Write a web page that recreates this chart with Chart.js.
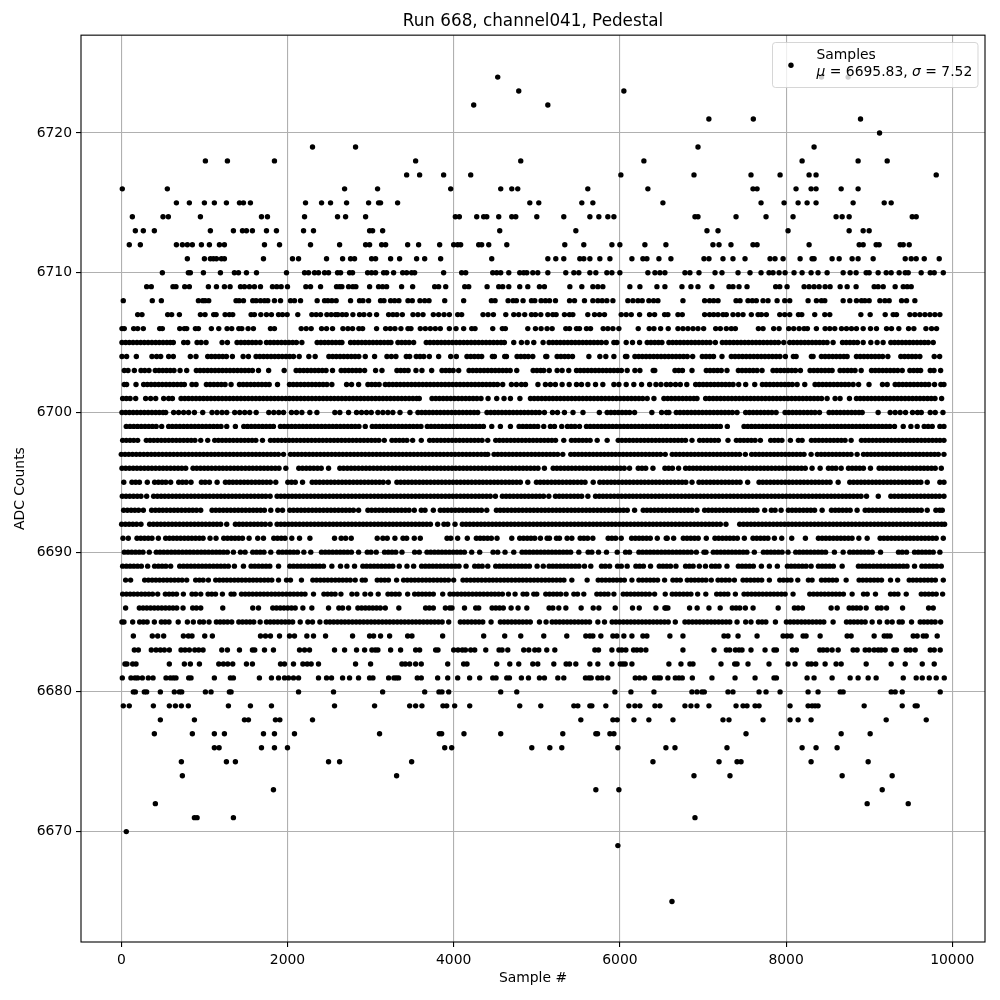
<!DOCTYPE html>
<html>
<head>
<meta charset="utf-8">
<title>Run 668, channel041, Pedestal</title>
<script src="https://cdn.jsdelivr.net/npm/chart.js@4"></script>
<style>
  html, body { margin: 0; padding: 0; background: #fff; }
  canvas { display: block; }
</style>
</head>
<body>
<canvas id="pedestalChart" width="1000" height="1000"></canvas>
<script>
// sample numbers, one list per ADC count
const s6724 = [4530, 8426, 8747];
const s6723 = [4783, 6048];
const s6722 = [4241, 5133];
const s6721 = [7071, 7606, 8896];
const s6720 = [9125];
const s6719 = [2301, 2819, 6940, 8337];
const s6718 = [1012, 1277, 1843, 3542, 4807, 6289, 8193, 8867, 9217];
const s6717 = [3434, 3590, 3879, 4205, 6012, 6892, 7578, 7928, 8277, 8361, 9807];
const s6716 = [12, 554, 2687, 3084, 3964, 4566, 4699, 4771, 5614, 6337, 7602, 7651, 8120, 8301, 8361, 8663, 8867];
const s6715 = [663, 819, 1000, 1120, 1265, 1422, 1470, 1554, 2217, 2410, 2518, 2711, 2976, 3096, 3120, 3325, 4916, 5024, 5542, 5675, 6518, 7699, 7976, 8145, 8253, 8361, 8807, 9181, 9265];
const s6714 = [133, 502, 566, 952, 1687, 1759, 2205, 2602, 2699, 2940, 4020, 4068, 4277, 4361, 4398, 4542, 4699, 4747, 5000, 5325, 5639, 5747, 5855, 5928, 6904, 6940, 7398, 7759, 8084, 8602, 8675, 8759, 9518, 9566];
const s6713 = [169, 265, 398, 1072, 1349, 1458, 1506, 1578, 1747, 1867, 2193, 2313, 2988, 3024, 3145, 4554, 5470, 7048, 7181, 8024, 8759, 8928, 9000];
const s6712 = [96, 229, 663, 735, 795, 855, 964, 1060, 1181, 1241, 1723, 1904, 2277, 2627, 2940, 2988, 3133, 3181, 3446, 3578, 3831, 4000, 4048, 4084, 4301, 4337, 4422, 4639, 5337, 5566, 5904, 6000, 6301, 6554, 7120, 7193, 7337, 7602, 7651, 8277, 8880, 8928, 9084, 9120, 9373, 9410, 9482];
const s6711 = [795, 1000, 1072, 1108, 1145, 1205, 1241, 1711, 2060, 2133, 2470, 2663, 2759, 2807, 3012, 3060, 3241, 3349, 3554, 3651, 3843, 4458, 5133, 5229, 5325, 5518, 5566, 5639, 5759, 5880, 6145, 6277, 6325, 6470, 6614, 7012, 7072, 7241, 7361, 7506, 7807, 7867, 7964, 8169, 8313, 8337, 8554, 8639, 8795, 8867, 9048, 9434, 9506, 9566, 9663, 9843];
const s6710 = [494, 807, 831, 988, 1193, 1361, 1410, 1506, 1627, 1988, 2205, 2253, 2325, 2373, 2446, 2494, 2602, 2639, 2747, 2783, 2964, 3012, 3060, 3157, 3193, 3277, 3386, 3434, 3494, 3530, 3879, 4096, 4145, 4470, 4518, 4566, 4663, 4795, 4843, 4880, 4952, 5012, 5133, 5349, 5446, 5506, 5639, 5711, 5843, 5904, 6000, 6337, 6422, 6482, 6542, 6783, 6843, 6952, 7145, 7229, 7422, 7566, 7699, 7795, 7843, 7916, 7988, 8096, 8193, 8301, 8385, 8494, 8687, 8771, 8843, 8964, 9000, 9108, 9205, 9265, 9361, 9434, 9470, 9626, 9735, 9783, 9892];
const s6709 = [305, 361, 622, 658, 763, 819, 1048, 1145, 1241, 1309, 1434, 1482, 1542, 1602, 1675, 1819, 1871, 1924, 2000, 2221, 2277, 2398, 2590, 2627, 2655, 2735, 2787, 2823, 2988, 3096, 3145, 3193, 3373, 3506, 3771, 3819, 3904, 4133, 4181, 4402, 4542, 4590, 4663, 4795, 4892, 5032, 5092, 5398, 5542, 5675, 5735, 5795, 6120, 6241, 6446, 6542, 6747, 6855, 6940, 7108, 7313, 7361, 7434, 7530, 7875, 7924, 8012, 8217, 8277, 8337, 8398, 8470, 8530, 8651, 8735, 8843, 9060, 9108, 9169, 9313, 9410, 9458, 9506];
const s6708 = [24, 373, 482, 928, 980, 1008, 1052, 1381, 1418, 1470, 1582, 1622, 1675, 1723, 1763, 1843, 1916, 2036, 2084, 2157, 2357, 2446, 2486, 2534, 2586, 2759, 2867, 2908, 2976, 3120, 3161, 3241, 3289, 3341, 3450, 3502, 3594, 3651, 3703, 3892, 4120, 4454, 4498, 4655, 4715, 4755, 4835, 4936, 4976, 5052, 5104, 5153, 5225, 5394, 5454, 5574, 5675, 5735, 5787, 5843, 5916, 6096, 6157, 6217, 6269, 6349, 6406, 6458, 6759, 7020, 7080, 7129, 7181, 7398, 7446, 7542, 7594, 7642, 7723, 7783, 7892, 7984, 8044, 8265, 8365, 8426, 8466, 8687, 8767, 8847, 8908, 8948, 9000, 9129, 9189, 9241, 9390, 9450, 9550];
const s6707 = [197, 249, 558, 606, 699, 952, 1008, 1112, 1141, 1249, 1301, 1341, 1562, 1602, 1679, 1747, 1807, 1892, 1940, 1996, 2124, 2293, 2345, 2398, 2474, 2526, 2578, 2606, 2659, 2707, 2787, 2867, 2920, 2988, 3072, 3217, 3269, 3317, 3382, 3510, 3570, 3631, 3755, 3819, 3884, 3948, 4048, 4096, 4353, 4414, 4478, 4627, 4723, 4783, 4855, 4936, 4984, 5048, 5133, 5193, 5233, 5333, 5394, 5434, 5614, 5695, 5755, 5815, 6016, 6076, 6137, 6237, 6357, 6418, 6538, 6578, 6699, 6751, 7020, 7080, 7129, 7181, 7241, 7281, 7361, 7422, 7482, 7582, 7663, 7703, 7763, 7924, 7984, 8044, 8149, 8189, 8345, 8466, 8526, 8900, 9012, 9193, 9289, 9329, 9490, 9550, 9610, 9671, 9731, 9791, 9851];
const s6706 = [8, 36, 149, 197, 265, 462, 494, 703, 759, 787, 892, 928, 1084, 1173, 1273, 1329, 1414, 1450, 1526, 1590, 1795, 1843, 2165, 2225, 2285, 2410, 2470, 2542, 2667, 2727, 2783, 2859, 2904, 3072, 3181, 3237, 3293, 3365, 3450, 3486, 3598, 3659, 3719, 3779, 3839, 3948, 4028, 4120, 4217, 4257, 4470, 4586, 4622, 4892, 4984, 5052, 5124, 5185, 5349, 5394, 5478, 5514, 5598, 5647, 5799, 5855, 5916, 5988, 6221, 6353, 6410, 6490, 6582, 6699, 6759, 6819, 6880, 6940, 7008, 7153, 7209, 7281, 7341, 7390, 7667, 7723, 7851, 7916, 8032, 8092, 8157, 8217, 8257, 8365, 8470, 8526, 8586, 8667, 8727, 8787, 8847, 8928, 9016, 9088, 9209, 9269, 9357, 9474, 9538, 9683, 9751, 9811];
const s6705 = [8, 52, 97, 142, 188, 233, 278, 323, 368, 413, 458, 503, 548, 590, 626, 751, 799, 912, 960, 1020, 1213, 1277, 1393, 1440, 1485, 1530, 1575, 1620, 1671, 1747, 1792, 1837, 1882, 1927, 1972, 2017, 2062, 2107, 2173, 2357, 2402, 2447, 2492, 2537, 2582, 2627, 2655, 2759, 2804, 2849, 2894, 2939, 2984, 3029, 3074, 3119, 3164, 3209, 3245, 3329, 3374, 3419, 3464, 3518, 3670, 3715, 3760, 3805, 3850, 3895, 3940, 3985, 4030, 4075, 4120, 4165, 4210, 4255, 4300, 4345, 4390, 4435, 4480, 4525, 4570, 4610, 4723, 4815, 4884, 4964, 5076, 5148, 5193, 5238, 5283, 5328, 5373, 5418, 5463, 5508, 5553, 5598, 5643, 5688, 5733, 5778, 5835, 5928, 5964, 6076, 6152, 6237, 6329, 6374, 6419, 6464, 6506, 6590, 6635, 6680, 6725, 6770, 6815, 6860, 6905, 6950, 6995, 7040, 7085, 7149, 7233, 7278, 7323, 7368, 7413, 7458, 7503, 7548, 7593, 7638, 7683, 7728, 7773, 7818, 7863, 7908, 7972, 8044, 8089, 8134, 8179, 8224, 8269, 8314, 8359, 8404, 8449, 8494, 8566, 8679, 8724, 8769, 8814, 8859, 8928, 9020, 9096, 9168, 9261, 9306, 9351, 9396, 9441, 9486, 9531, 9576, 9621, 9666, 9711, 9771];
const s6704 = [8, 64, 181, 369, 425, 474, 570, 626, 831, 899, 1040, 1085, 1130, 1175, 1220, 1265, 1337, 1466, 1530, 1622, 1667, 1712, 1757, 1802, 1847, 1892, 1937, 1982, 2027, 2072, 2141, 2257, 2333, 2498, 2543, 2588, 2633, 2678, 2723, 2768, 2813, 2858, 2936, 3048, 3197, 3250, 3305, 3430, 3470, 3550, 3595, 3640, 3707, 3819, 3964, 4032, 4160, 4205, 4250, 4295, 4337, 4466, 4490, 4614, 4635, 4763, 4808, 4853, 4898, 4952, 5108, 5121, 5245, 5290, 5335, 5380, 5430, 5627, 5759, 5831, 5928, 6068, 6084, 6181, 6226, 6271, 6316, 6361, 6406, 6451, 6496, 6541, 6586, 6631, 6676, 6721, 6766, 6811, 6876, 6992, 7037, 7082, 7127, 7229, 7341, 7386, 7431, 7476, 7521, 7566, 7611, 7656, 7701, 7746, 7791, 7836, 7881, 7926, 7992, 8088, 8121, 8305, 8325, 8425, 8470, 8515, 8560, 8605, 8650, 8695, 8735, 8847, 8892, 8937, 8982, 9027, 9072, 9117, 9162, 9225, 9381, 9426, 9471, 9516, 9561, 9610, 9783, 9848];
const s6703 = [36, 81, 157, 237, 282, 333, 409, 454, 499, 544, 589, 634, 707, 787, 903, 948, 993, 1038, 1083, 1128, 1173, 1218, 1263, 1308, 1353, 1398, 1443, 1488, 1533, 1578, 1651, 1773, 1960, 2104, 2149, 2194, 2239, 2284, 2329, 2374, 2419, 2464, 2542, 2646, 2691, 2736, 2781, 2826, 2871, 2928, 3060, 3137, 3317, 3362, 3407, 3452, 3546, 3618, 3735, 3859, 3904, 3949, 3994, 4060, 4185, 4230, 4275, 4320, 4365, 4410, 4455, 4500, 4545, 4590, 4635, 4680, 4759, 4956, 5001, 5046, 5084, 5150, 5245, 5305, 5385, 5478, 5523, 5568, 5613, 5658, 5703, 5748, 5793, 5838, 5883, 5928, 5973, 6018, 6088, 6181, 6241, 6401, 6420, 6663, 6708, 6753, 6868, 7040, 7085, 7130, 7175, 7220, 7289, 7426, 7471, 7516, 7561, 7606, 7651, 7711, 7843, 7888, 7933, 7978, 8023, 8068, 8113, 8173, 8289, 8334, 8379, 8424, 8469, 8514, 8554, 8650, 8695, 8740, 8785, 8830, 8904, 9028, 9073, 9118, 9163, 9208, 9253, 9298, 9343, 9398, 9490, 9535, 9580, 9619, 9735, 9780, 9860];
const s6702 = [36, 64, 177, 269, 314, 359, 404, 449, 494, 539, 584, 629, 674, 719, 759, 851, 900, 1024, 1069, 1114, 1159, 1204, 1249, 1321, 1422, 1467, 1512, 1557, 1602, 1647, 1692, 1737, 1780, 1880, 2024, 2069, 2114, 2159, 2204, 2249, 2294, 2339, 2384, 2429, 2474, 2534, 2711, 2771, 2856, 2968, 3013, 3058, 3103, 3177, 3222, 3267, 3312, 3357, 3402, 3447, 3492, 3537, 3582, 3627, 3672, 3717, 3762, 3807, 3852, 3897, 3942, 3987, 4032, 4077, 4122, 4167, 4212, 4257, 4302, 4347, 4392, 4437, 4482, 4527, 4590, 4695, 4755, 4815, 4864, 5014, 5104, 5164, 5224, 5305, 5390, 5478, 5538, 5615, 5707, 5795, 5928, 5988, 6076, 6168, 6261, 6358, 6434, 6494, 6560, 6610, 6670, 6727, 6805, 6912, 6957, 7002, 7047, 7092, 7137, 7182, 7227, 7272, 7317, 7362, 7430, 7514, 7623, 7715, 7760, 7805, 7850, 7895, 7940, 7985, 8030, 8075, 8133, 8225, 8349, 8394, 8439, 8484, 8529, 8574, 8619, 8664, 8709, 8754, 8807, 8873, 8998, 9160, 9217, 9313, 9358, 9403, 9448, 9493, 9538, 9583, 9628, 9673, 9718, 9787, 9863, 9900];
const s6701 = [16, 61, 106, 173, 293, 353, 414, 510, 570, 615, 719, 764, 809, 854, 899, 944, 989, 1034, 1079, 1124, 1169, 1214, 1259, 1304, 1349, 1394, 1439, 1484, 1529, 1574, 1619, 1664, 1709, 1754, 1799, 1844, 1889, 1934, 1979, 2024, 2069, 2114, 2159, 2204, 2249, 2294, 2339, 2384, 2429, 2474, 2519, 2564, 2609, 2654, 2699, 2744, 2789, 2834, 2879, 2924, 2969, 3014, 3059, 3104, 3149, 3194, 3239, 3284, 3329, 3374, 3419, 3464, 3509, 3554, 3586, 3739, 3784, 3829, 3874, 3919, 3964, 4009, 4054, 4099, 4144, 4189, 4234, 4279, 4329, 4414, 4518, 4606, 4683, 4797, 4924, 4969, 5014, 5059, 5104, 5149, 5194, 5239, 5284, 5329, 5374, 5419, 5464, 5509, 5554, 5599, 5644, 5689, 5734, 5779, 5824, 5869, 5914, 5959, 6004, 6049, 6094, 6139, 6184, 6229, 6274, 6329, 6410, 6530, 6575, 6620, 6665, 6710, 6755, 6800, 6845, 6890, 6928, 7032, 7077, 7122, 7167, 7212, 7257, 7302, 7347, 7392, 7437, 7482, 7527, 7572, 7617, 7662, 7707, 7752, 7797, 7842, 7887, 7932, 7977, 8022, 8067, 8112, 8157, 8202, 8247, 8292, 8337, 8382, 8427, 8494, 8590, 8650, 8763, 8847, 8892, 8937, 8982, 9027, 9072, 9117, 9162, 9207, 9252, 9297, 9342, 9387, 9432, 9477, 9522, 9567, 9612, 9657, 9702, 9747, 9792, 9872];
const s6700 = [8, 53, 98, 143, 188, 233, 278, 323, 368, 413, 458, 503, 534, 630, 690, 750, 810, 880, 980, 1092, 1152, 1212, 1269, 1365, 1425, 1485, 1545, 1623, 1775, 1835, 1895, 1952, 2048, 2108, 2173, 2269, 2354, 2570, 2630, 2735, 2831, 2891, 2951, 3008, 3088, 3148, 3208, 3268, 3354, 3474, 3570, 3615, 3660, 3705, 3750, 3795, 3840, 3885, 3930, 3975, 4020, 4065, 4110, 4155, 4200, 4245, 4289, 4401, 4446, 4491, 4536, 4581, 4626, 4671, 4716, 4761, 4806, 4851, 4896, 4941, 4986, 5031, 5092, 5189, 5249, 5333, 5436, 5556, 5753, 5847, 5892, 5937, 5982, 6027, 6072, 6117, 6177, 6385, 6502, 6562, 6590, 6679, 6724, 6769, 6814, 6859, 6904, 6949, 6994, 7039, 7084, 7129, 7174, 7219, 7264, 7309, 7354, 7410, 7514, 7559, 7604, 7649, 7694, 7739, 7784, 7829, 7880, 7988, 8033, 8078, 8123, 8168, 8213, 8258, 8303, 8348, 8402, 8518, 8563, 8608, 8653, 8698, 8743, 8788, 8833, 8878, 8916, 9108, 9253, 9313, 9373, 9438, 9522, 9582, 9627, 9735, 9795, 9888];
const s6699 = [60, 105, 150, 195, 240, 285, 330, 375, 420, 486, 570, 615, 660, 705, 750, 795, 840, 885, 930, 975, 1020, 1065, 1110, 1155, 1200, 1269, 1373, 1474, 1519, 1564, 1609, 1654, 1699, 1744, 1789, 1831, 1915, 1960, 2005, 2050, 2095, 2140, 2185, 2230, 2275, 2320, 2365, 2410, 2455, 2500, 2545, 2590, 2635, 2680, 2725, 2770, 2815, 2860, 2936, 3020, 3065, 3110, 3155, 3200, 3245, 3290, 3335, 3380, 3425, 3470, 3515, 3560, 3606, 3683, 3728, 3773, 3818, 3863, 3908, 3953, 3998, 4043, 4088, 4133, 4178, 4223, 4268, 4313, 4358, 4458, 4562, 4683, 4787, 4832, 4877, 4922, 4967, 5012, 5084, 5164, 5213, 5300, 5369, 5414, 5459, 5514, 5598, 5643, 5688, 5733, 5778, 5823, 5868, 5913, 5958, 6003, 6048, 6093, 6138, 6183, 6228, 6273, 6318, 6363, 6408, 6453, 6498, 6543, 6578, 6623, 6668, 6713, 6758, 6803, 6848, 6893, 6938, 6983, 7028, 7073, 7118, 7163, 7209, 7293, 7494, 7539, 7584, 7629, 7674, 7719, 7764, 7809, 7854, 7899, 7944, 7989, 8034, 8079, 8124, 8169, 8214, 8259, 8304, 8349, 8394, 8439, 8484, 8529, 8574, 8619, 8664, 8709, 8754, 8799, 8844, 8889, 8934, 8979, 9024, 9069, 9114, 9159, 9204, 9249, 9305, 9410, 9502, 9578, 9662, 9710, 9759, 9851, 9900];
const s6698 = [16, 60, 105, 150, 197, 301, 346, 391, 436, 481, 526, 571, 616, 661, 706, 751, 796, 841, 886, 956, 1040, 1124, 1169, 1214, 1259, 1304, 1349, 1394, 1439, 1484, 1529, 1574, 1619, 1699, 1795, 1840, 1885, 1930, 1975, 2020, 2065, 2110, 2155, 2200, 2245, 2290, 2335, 2380, 2425, 2470, 2515, 2560, 2605, 2650, 2695, 2740, 2785, 2830, 2875, 2920, 2965, 3010, 3055, 3100, 3165, 3257, 3302, 3347, 3392, 3437, 3506, 3610, 3711, 3756, 3801, 3846, 3891, 3936, 3981, 4026, 4071, 4116, 4161, 4206, 4251, 4296, 4341, 4410, 4506, 4551, 4596, 4641, 4686, 4731, 4776, 4821, 4866, 4911, 4956, 5001, 5046, 5091, 5136, 5181, 5226, 5325, 5417, 5462, 5507, 5552, 5597, 5642, 5727, 5847, 5980, 6025, 6070, 6115, 6160, 6205, 6250, 6295, 6340, 6385, 6430, 6475, 6520, 6565, 6610, 6655, 6700, 6745, 6790, 6868, 6960, 7005, 7050, 7095, 7140, 7185, 7301, 7402, 7447, 7492, 7537, 7582, 7627, 7691, 7815, 7860, 7905, 7950, 8052, 8148, 8193, 8305, 8350, 8395, 8440, 8485, 8530, 8575, 8620, 8665, 8710, 8783, 8907, 8952, 8997, 9042, 9087, 9132, 9177, 9222, 9267, 9312, 9357, 9402, 9447, 9492, 9537, 9582, 9627, 9672, 9717, 9762, 9807, 9852, 9900];
const s6697 = [0, 45, 90, 135, 180, 225, 270, 315, 360, 405, 450, 495, 540, 585, 630, 675, 720, 765, 810, 855, 900, 945, 990, 1035, 1080, 1125, 1170, 1215, 1260, 1305, 1350, 1395, 1440, 1485, 1530, 1575, 1620, 1665, 1710, 1755, 1800, 1845, 1890, 1952, 2036, 2081, 2126, 2171, 2216, 2261, 2306, 2351, 2396, 2441, 2486, 2531, 2576, 2621, 2666, 2711, 2756, 2801, 2846, 2891, 2936, 2981, 3026, 3071, 3116, 3161, 3206, 3251, 3296, 3341, 3386, 3431, 3476, 3521, 3566, 3611, 3656, 3701, 3746, 3791, 3836, 3881, 3926, 3971, 4016, 4061, 4106, 4151, 4196, 4241, 4286, 4331, 4376, 4410, 4486, 4531, 4576, 4621, 4666, 4711, 4756, 4801, 4846, 4891, 4936, 4981, 5026, 5071, 5116, 5161, 5206, 5251, 5313, 5409, 5454, 5499, 5544, 5589, 5634, 5679, 5724, 5769, 5814, 5859, 5904, 5949, 5994, 6039, 6084, 6129, 6174, 6219, 6264, 6309, 6354, 6399, 6444, 6489, 6546, 6630, 6675, 6720, 6765, 6810, 6855, 6900, 6945, 6990, 7035, 7080, 7125, 7170, 7215, 7260, 7305, 7350, 7395, 7440, 7510, 7586, 7631, 7676, 7721, 7766, 7811, 7856, 7901, 7946, 7991, 8036, 8081, 8126, 8171, 8216, 8301, 8377, 8422, 8467, 8512, 8557, 8602, 8647, 8692, 8737, 8782, 8855, 8932, 8977, 9022, 9067, 9112, 9157, 9202, 9247, 9292, 9337, 9382, 9427, 9472, 9517, 9562, 9607, 9652, 9697, 9742, 9787, 9832, 9900];
const s6696 = [8, 53, 98, 143, 188, 233, 278, 323, 368, 413, 458, 503, 548, 593, 638, 683, 728, 775, 863, 908, 953, 998, 1043, 1088, 1133, 1178, 1223, 1268, 1313, 1358, 1403, 1448, 1493, 1538, 1583, 1628, 1673, 1718, 1763, 1808, 1853, 1898, 1980, 2136, 2181, 2226, 2271, 2316, 2361, 2406, 2494, 2630, 2675, 2720, 2765, 2810, 2855, 2900, 2945, 2990, 3035, 3080, 3125, 3170, 3215, 3260, 3305, 3350, 3395, 3440, 3485, 3530, 3575, 3620, 3665, 3710, 3755, 3800, 3845, 3890, 3935, 3980, 4025, 4070, 4115, 4160, 4205, 4250, 4295, 4340, 4385, 4430, 4475, 4520, 4565, 4610, 4655, 4700, 4745, 4790, 4835, 4880, 4925, 4970, 5015, 5092, 5197, 5242, 5287, 5332, 5377, 5422, 5467, 5512, 5557, 5602, 5647, 5692, 5737, 5782, 5827, 5872, 5917, 5962, 6007, 6052, 6116, 6221, 6266, 6311, 6398, 6542, 6587, 6632, 6707, 6791, 6836, 6881, 6926, 6971, 7016, 7061, 7106, 7151, 7196, 7241, 7286, 7331, 7376, 7421, 7466, 7511, 7556, 7601, 7646, 7691, 7736, 7781, 7826, 7871, 7916, 7961, 8006, 8051, 8096, 8141, 8186, 8231, 8313, 8410, 8510, 8555, 8600, 8663, 8751, 8796, 8841, 8886, 8931, 9016, 9120, 9165, 9210, 9255, 9300, 9345, 9390, 9435, 9480, 9525, 9570, 9615, 9660, 9705, 9750, 9795, 9868];
const s6695 = [30, 128, 173, 218, 313, 401, 446, 491, 536, 594, 691, 736, 781, 839, 964, 1009, 1060, 1153, 1253, 1298, 1343, 1388, 1433, 1478, 1523, 1568, 1613, 1658, 1703, 1748, 1793, 1859, 2004, 2049, 2094, 2181, 2297, 2342, 2387, 2432, 2477, 2522, 2567, 2612, 2657, 2702, 2747, 2792, 2837, 2882, 2927, 2972, 3017, 3062, 3107, 3152, 3213, 3317, 3362, 3407, 3452, 3497, 3542, 3587, 3632, 3677, 3722, 3767, 3812, 3857, 3902, 3947, 3992, 4037, 4082, 4127, 4172, 4217, 4262, 4307, 4352, 4397, 4442, 4487, 4532, 4577, 4622, 4667, 4712, 4757, 4802, 4892, 4996, 5041, 5086, 5131, 5176, 5221, 5266, 5311, 5356, 5401, 5446, 5491, 5536, 5581, 5679, 5759, 5804, 5849, 5894, 5939, 5984, 6029, 6074, 6119, 6164, 6209, 6254, 6299, 6344, 6389, 6434, 6479, 6524, 6569, 6614, 6659, 6704, 6749, 6794, 6868, 6952, 6997, 7042, 7087, 7132, 7177, 7222, 7267, 7312, 7357, 7402, 7447, 7538, 7675, 7720, 7765, 7810, 7855, 7900, 7945, 7990, 8035, 8080, 8125, 8170, 8215, 8260, 8305, 8350, 8395, 8440, 8485, 8530, 8627, 8767, 8812, 8857, 8902, 8947, 8992, 9037, 9082, 9127, 9172, 9217, 9262, 9307, 9352, 9397, 9442, 9487, 9532, 9577, 9622, 9699, 9851, 9900];
const s6694 = [12, 57, 102, 147, 192, 237, 305, 389, 434, 479, 524, 569, 614, 659, 704, 749, 794, 839, 884, 929, 974, 1019, 1064, 1109, 1154, 1199, 1244, 1289, 1334, 1379, 1424, 1469, 1514, 1559, 1604, 1649, 1694, 1739, 1791, 1875, 1920, 1965, 2010, 2055, 2100, 2145, 2190, 2235, 2280, 2325, 2370, 2415, 2460, 2505, 2550, 2595, 2640, 2685, 2730, 2775, 2820, 2865, 2910, 2955, 3000, 3045, 3090, 3135, 3180, 3225, 3270, 3315, 3360, 3405, 3450, 3495, 3540, 3585, 3630, 3675, 3720, 3765, 3810, 3855, 3900, 3945, 3990, 4035, 4080, 4125, 4170, 4215, 4260, 4305, 4350, 4395, 4440, 4502, 4586, 4631, 4676, 4721, 4766, 4811, 4856, 4901, 4946, 4991, 5036, 5081, 5145, 5225, 5270, 5315, 5360, 5405, 5450, 5495, 5540, 5615, 5707, 5752, 5797, 5842, 5887, 5932, 5977, 6022, 6067, 6112, 6157, 6202, 6247, 6292, 6337, 6382, 6427, 6472, 6517, 6562, 6607, 6652, 6697, 6742, 6787, 6832, 6877, 6922, 6967, 7012, 7057, 7102, 7147, 7192, 7237, 7282, 7327, 7372, 7417, 7462, 7507, 7552, 7597, 7642, 7687, 7732, 7777, 7822, 7867, 7912, 7957, 8002, 8047, 8092, 8137, 8182, 8227, 8272, 8317, 8362, 8407, 8452, 8497, 8542, 8587, 8632, 8677, 8722, 8767, 8812, 8857, 8902, 8968, 9110, 9261, 9306, 9351, 9396, 9441, 9486, 9531, 9576, 9621, 9666, 9711, 9756, 9801, 9846, 9900];
const s6693 = [28, 73, 118, 163, 208, 265, 365, 410, 455, 500, 545, 590, 635, 680, 725, 770, 815, 860, 905, 956, 1092, 1137, 1182, 1227, 1272, 1317, 1362, 1407, 1452, 1497, 1542, 1587, 1632, 1677, 1722, 1799, 1883, 1940, 2028, 2073, 2118, 2163, 2208, 2253, 2298, 2343, 2388, 2433, 2478, 2523, 2568, 2613, 2658, 2703, 2748, 2793, 2856, 2968, 3013, 3058, 3103, 3148, 3193, 3238, 3283, 3328, 3373, 3418, 3463, 3526, 3610, 3655, 3755, 3839, 3884, 3929, 3974, 4019, 4064, 4109, 4154, 4199, 4244, 4289, 4334, 4398, 4514, 4559, 4604, 4649, 4694, 4739, 4784, 4829, 4874, 4919, 4964, 5009, 5054, 5099, 5144, 5189, 5234, 5279, 5324, 5369, 5414, 5459, 5504, 5549, 5594, 5639, 5684, 5729, 5774, 5819, 5864, 5909, 5954, 5999, 6044, 6089, 6177, 6281, 6326, 6371, 6416, 6461, 6506, 6551, 6596, 6641, 6686, 6731, 6776, 6821, 6866, 6928, 7020, 7065, 7110, 7155, 7200, 7245, 7290, 7335, 7380, 7425, 7470, 7515, 7560, 7605, 7650, 7743, 7823, 7868, 7940, 8028, 8073, 8118, 8163, 8208, 8253, 8298, 8343, 8434, 8546, 8591, 8636, 8681, 8726, 8771, 8855, 8952, 8997, 9042, 9087, 9132, 9177, 9222, 9267, 9312, 9357, 9402, 9447, 9492, 9537, 9582, 9627, 9699, 9803, 9850, 9880];
const s6692 = [4, 49, 94, 139, 184, 237, 341, 386, 431, 476, 521, 566, 611, 656, 701, 746, 791, 836, 881, 926, 971, 1016, 1061, 1106, 1151, 1196, 1269, 1373, 1418, 1463, 1508, 1553, 1598, 1643, 1688, 1733, 1791, 1875, 1920, 1965, 2010, 2055, 2100, 2145, 2190, 2235, 2280, 2325, 2370, 2415, 2460, 2505, 2550, 2595, 2640, 2685, 2730, 2775, 2820, 2865, 2910, 2955, 3000, 3045, 3090, 3135, 3180, 3225, 3270, 3315, 3360, 3405, 3450, 3495, 3540, 3585, 3630, 3675, 3720, 3807, 3883, 3928, 4016, 4104, 4149, 4194, 4239, 4284, 4329, 4374, 4419, 4464, 4509, 4554, 4599, 4644, 4689, 4734, 4779, 4824, 4869, 4914, 4959, 5004, 5049, 5094, 5139, 5184, 5229, 5274, 5319, 5364, 5409, 5454, 5499, 5544, 5589, 5634, 5679, 5724, 5769, 5814, 5859, 5904, 5949, 5994, 6039, 6084, 6129, 6174, 6219, 6264, 6309, 6354, 6399, 6444, 6489, 6534, 6579, 6624, 6669, 6714, 6759, 6804, 6849, 6894, 6939, 6984, 7029, 7074, 7119, 7164, 7209, 7277, 7442, 7487, 7532, 7577, 7622, 7667, 7712, 7757, 7802, 7847, 7892, 7937, 7982, 8027, 8072, 8117, 8162, 8207, 8252, 8297, 8342, 8387, 8432, 8477, 8522, 8567, 8612, 8657, 8702, 8747, 8792, 8837, 8882, 8927, 8972, 9017, 9062, 9107, 9152, 9197, 9242, 9287, 9332, 9377, 9422, 9467, 9512, 9557, 9602, 9647, 9692, 9737, 9782, 9827, 9872, 9908];
const s6691 = [20, 84, 189, 234, 279, 324, 369, 446, 534, 579, 624, 669, 714, 759, 804, 849, 894, 939, 984, 1068, 1140, 1233, 1278, 1323, 1368, 1413, 1458, 1538, 1642, 1711, 1835, 1880, 1925, 1970, 2052, 2145, 2270, 2566, 2646, 2700, 2767, 3080, 3148, 3200, 3293, 3390, 3434, 3526, 3598, 3920, 3965, 4048, 4164, 4273, 4318, 4363, 4408, 4453, 4522, 4699, 4795, 4840, 4885, 4930, 4975, 5044, 5124, 5153, 5237, 5273, 5365, 5422, 5522, 5567, 5612, 5675, 5859, 5904, 5949, 6016, 6141, 6186, 6231, 6276, 6321, 6366, 6450, 6570, 6558, 6647, 6763, 6808, 6853, 6898, 6943, 7040, 7144, 7189, 7234, 7279, 7324, 7369, 7414, 7498, 7602, 7647, 7692, 7737, 7782, 7860, 7948, 8068, 8233, 8389, 8434, 8479, 8524, 8569, 8614, 8659, 8704, 8749, 8794, 8876, 8976, 9132, 9177, 9222, 9267, 9312, 9357, 9402, 9447, 9492, 9537, 9582, 9627, 9672, 9717, 9762, 9807, 9892];
const s6690 = [36, 81, 126, 171, 216, 261, 337, 421, 466, 511, 556, 601, 646, 691, 736, 781, 826, 871, 916, 961, 1006, 1051, 1096, 1141, 1186, 1231, 1276, 1349, 1434, 1490, 1582, 1627, 1672, 1717, 1799, 1895, 1940, 1985, 2030, 2075, 2120, 2197, 2280, 2409, 2454, 2499, 2544, 2589, 2634, 2679, 2724, 2769, 2856, 2960, 3005, 3068, 3168, 3213, 3258, 3303, 3378, 3530, 3586, 3679, 3724, 3769, 3814, 3859, 3904, 3949, 3994, 4039, 4084, 4129, 4217, 4313, 4474, 4530, 4618, 4723, 4823, 4868, 4913, 4958, 5003, 5048, 5093, 5138, 5183, 5228, 5273, 5318, 5363, 5408, 5506, 5618, 5663, 5743, 5839, 5968, 6068, 6116, 6229, 6274, 6319, 6364, 6409, 6454, 6499, 6544, 6589, 6634, 6679, 6724, 6769, 6814, 6859, 6920, 7012, 7036, 7124, 7169, 7214, 7259, 7304, 7349, 7394, 7439, 7484, 7529, 7618, 7727, 7772, 7817, 7862, 7907, 7952, 8024, 8116, 8161, 8206, 8251, 8296, 8341, 8386, 8431, 8476, 8582, 8687, 8767, 8812, 8857, 8902, 8947, 8992, 9037, 9137, 9353, 9398, 9450, 9546, 9591, 9636, 9681, 9726, 9771, 9851];
const s6689 = [16, 61, 106, 151, 196, 241, 317, 401, 446, 491, 536, 594, 703, 748, 793, 838, 883, 928, 973, 1018, 1063, 1108, 1153, 1198, 1243, 1288, 1361, 1470, 1562, 1607, 1652, 1697, 1742, 1787, 1892, 2028, 2073, 2118, 2163, 2208, 2253, 2298, 2343, 2388, 2433, 2534, 2638, 2715, 2807, 2907, 2952, 2997, 3042, 3087, 3132, 3177, 3222, 3267, 3345, 3438, 3518, 3614, 3659, 3704, 3749, 3794, 3839, 3884, 3929, 3974, 4019, 4064, 4149, 4253, 4298, 4343, 4410, 4506, 4551, 4596, 4641, 4686, 4731, 4776, 4821, 4866, 4911, 5004, 5078, 5148, 5193, 5238, 5283, 5328, 5373, 5418, 5463, 5508, 5574, 5650, 5779, 5824, 5876, 5972, 6017, 6088, 6193, 6238, 6283, 6369, 6474, 6519, 6564, 6609, 6675, 6791, 6836, 6881, 6956, 7030, 7104, 7149, 7194, 7289, 7426, 7471, 7516, 7561, 7606, 7703, 7799, 7895, 8016, 8061, 8106, 8151, 8196, 8241, 8301, 8389, 8434, 8479, 8524, 8569, 8675, 8871, 8916, 8961, 9006, 9051, 9096, 9141, 9186, 9231, 9276, 9321, 9366, 9411, 9456, 9546, 9634, 9679, 9724, 9769, 9814, 9868];
const s6688 = [52, 112, 281, 326, 371, 416, 461, 506, 551, 596, 641, 686, 731, 787, 895, 940, 985, 1048, 1136, 1181, 1226, 1271, 1316, 1361, 1406, 1451, 1496, 1541, 1586, 1631, 1676, 1721, 1766, 1811, 1892, 1988, 2036, 2168, 2305, 2350, 2395, 2440, 2485, 2530, 2575, 2620, 2665, 2710, 2755, 2815, 2899, 2936, 3080, 3125, 3170, 3215, 3313, 3397, 3442, 3487, 3532, 3577, 3622, 3667, 3712, 3757, 3802, 3847, 3892, 3937, 4000, 4112, 4157, 4202, 4247, 4292, 4337, 4382, 4427, 4472, 4517, 4562, 4607, 4652, 4697, 4742, 4787, 4832, 4877, 4922, 4967, 5012, 5057, 5102, 5147, 5192, 5237, 5282, 5327, 5422, 5606, 5739, 5784, 5829, 5874, 5919, 5964, 6009, 6054, 6145, 6229, 6274, 6319, 6364, 6409, 6454, 6538, 6638, 6683, 6727, 6811, 6856, 6901, 6946, 6991, 7036, 7100, 7181, 7226, 7271, 7316, 7378, 7482, 7527, 7572, 7617, 7662, 7707, 7799, 7924, 7969, 8014, 8059, 8141, 8269, 8313, 8426, 8471, 8516, 8561, 8606, 8723, 8879, 8924, 8969, 9014, 9059, 9104, 9149, 9257, 9343, 9482, 9527, 9572, 9617, 9662, 9707, 9752, 9797, 9892];
const s6687 = [16, 61, 106, 151, 196, 241, 286, 331, 376, 438, 530, 575, 620, 665, 747, 851, 896, 956, 1044, 1089, 1134, 1217, 1321, 1357, 1446, 1491, 1536, 1581, 1626, 1671, 1716, 1761, 1806, 1851, 1896, 1941, 1986, 2031, 2076, 2121, 2166, 2211, 2313, 2438, 2483, 2528, 2573, 2643, 2775, 2835, 2932, 3000, 3092, 3209, 3254, 3299, 3344, 3446, 3530, 3575, 3620, 3665, 3710, 3755, 3868, 3956, 4001, 4046, 4091, 4136, 4181, 4226, 4271, 4316, 4361, 4406, 4451, 4496, 4541, 4586, 4659, 4739, 4835, 4880, 4964, 5000, 5108, 5153, 5198, 5243, 5288, 5353, 5446, 5491, 5566, 5723, 5768, 5813, 5858, 5928, 6040, 6085, 6130, 6175, 6220, 6265, 6310, 6355, 6418, 6546, 6630, 6675, 6720, 6765, 6810, 6855, 6936, 7034, 7165, 7210, 7255, 7300, 7390, 7494, 7539, 7584, 7629, 7674, 7719, 7764, 7809, 7854, 7899, 7944, 7989, 8084, 8285, 8330, 8375, 8420, 8465, 8510, 8555, 8600, 8645, 8690, 8795, 8932, 8977, 9076, 9257, 9302, 9347, 9446, 9627, 9672, 9717, 9762, 9807, 9884];
const s6686 = [52, 217, 262, 307, 352, 397, 442, 487, 532, 577, 622, 667, 743, 859, 904, 956, 1221, 1582, 1651, 1823, 1868, 1913, 1958, 2003, 2048, 2093, 2185, 2293, 2494, 2618, 2663, 2735, 2847, 2892, 2937, 2982, 3027, 3072, 3117, 3177, 3340, 3662, 3707, 3755, 3900, 3952, 3980, 4130, 4265, 4301, 4462, 4507, 4552, 4597, 4691, 4775, 4880, 5148, 5193, 5265, 5350, 5534, 5679, 5747, 5944, 6152, 6233, 6434, 6554, 6542, 6578, 6839, 6930, 7072, 7207, 7353, 7398, 7443, 7510, 7603, 7905, 8100, 8145, 8197, 8542, 8615, 8759, 8804, 8849, 8894, 8964, 9100, 9145, 9209, 9402, 9715, 9771];
const s6685 = [8, 32, 137, 221, 266, 311, 398, 482, 527, 574, 685, 795, 867, 944, 989, 1056, 1144, 1189, 1234, 1279, 1329, 1414, 1459, 1504, 1549, 1594, 1671, 1747, 1792, 1837, 1882, 1927, 1972, 2017, 2062, 2153, 2245, 2301, 2390, 2466, 2511, 2556, 2601, 2646, 2691, 2736, 2781, 2826, 2871, 2916, 2961, 3006, 3051, 3096, 3141, 3186, 3231, 3276, 3321, 3366, 3411, 3456, 3501, 3546, 3591, 3636, 3681, 3726, 3771, 3816, 3861, 3940, 4080, 4125, 4170, 4215, 4260, 4305, 4350, 4450, 4562, 4607, 4652, 4697, 4742, 4787, 4832, 4877, 4922, 5032, 5112, 5185, 5230, 5275, 5320, 5365, 5410, 5455, 5500, 5545, 5590, 5635, 5735, 5815, 5907, 5952, 5997, 6042, 6087, 6132, 6177, 6222, 6267, 6312, 6357, 6402, 6447, 6492, 6537, 6582, 6667, 6783, 6828, 6873, 6918, 6963, 7008, 7053, 7098, 7143, 7188, 7233, 7278, 7323, 7410, 7514, 7578, 7667, 7712, 7757, 7872, 8004, 8049, 8094, 8139, 8184, 8229, 8274, 8319, 8364, 8409, 8454, 8566, 8727, 8772, 8817, 8862, 8907, 8952, 9036, 9125, 9217, 9277, 9361, 9398, 9510, 9614, 9659, 9704, 9749, 9794, 9860];
const s6684 = [145, 373, 438, 510, 747, 807, 851, 1004, 1096, 1675, 1735, 1795, 1904, 2024, 2084, 2233, 2313, 2458, 2783, 2988, 3036, 3120, 3229, 3446, 3498, 3867, 4361, 4614, 4807, 5084, 5361, 5590, 5639, 5675, 5771, 5916, 5964, 6048, 6145, 6277, 6325, 6602, 6759, 7253, 7301, 7422, 7651, 7964, 8012, 8060, 8205, 8241, 8410, 8735, 8783, 9060, 9181, 9217, 9253, 9530, 9578, 9651, 9687, 9819];
const s6683 = [157, 205, 361, 418, 470, 518, 578, 719, 767, 819, 884, 932, 984, 1209, 1277, 1422, 1578, 1606, 1723, 1831, 2145, 2205, 2265, 2566, 2687, 2831, 2928, 3016, 3056, 3088, 3241, 3361, 3542, 3590, 3783, 3811, 4000, 4052, 4104, 4141, 4205, 4253, 4386, 4546, 4582, 4651, 4843, 4904, 4976, 5024, 5120, 5217, 5699, 5743, 5904, 5988, 6024, 6072, 6165, 6205, 6253, 6313, 6759, 7133, 7281, 7321, 7390, 7434, 7470, 7578, 7747, 7855, 7884, 8076, 8124, 8406, 8446, 8494, 8554, 8627, 8807, 8855, 8952, 9000, 9060, 9108, 9145, 9193, 9297, 9329, 9446, 9494, 9554, 9735, 9783, 9855];
const s6682 = [44, 68, 137, 177, 578, 759, 831, 940, 1173, 1229, 1281, 1341, 1506, 1578, 1916, 1964, 2072, 2185, 2237, 2285, 2373, 2819, 3000, 3377, 3418, 3470, 3542, 3610, 3928, 4120, 4160, 4518, 4675, 4783, 4952, 5012, 5205, 5353, 5394, 5470, 5639, 5735, 5904, 6004, 6036, 6064, 6145, 6590, 6735, 6843, 6880, 7217, 7382, 7410, 7542, 7795, 8024, 8108, 8265, 8305, 8357, 8470, 8602, 8663, 8964, 9265, 9434, 9639, 9783];
const s6681 = [12, 116, 165, 197, 253, 325, 382, 538, 590, 626, 658, 811, 839, 1120, 1313, 1349, 1662, 1807, 1892, 1964, 2012, 2072, 2133, 2373, 2470, 2530, 2663, 2747, 2855, 2988, 3028, 3217, 3281, 3309, 3337, 3562, 3610, 3807, 3928, 4048, 4192, 4313, 4470, 4510, 4639, 4671, 4815, 4900, 5032, 5092, 5253, 5325, 5586, 5627, 5655, 5735, 5783, 5855, 6185, 6237, 6297, 6418, 6458, 6486, 6578, 6667, 6711, 6751, 6872, 7108, 7386, 7627, 7855, 7884, 8253, 8337, 8554, 8771, 8867, 8988, 9084, 9410, 9566, 9639, 9723, 9807, 9904];
const s6680 = [145, 169, 277, 305, 470, 638, 699, 727, 1012, 1080, 1301, 1321, 2133, 2554, 3145, 3651, 3823, 3859, 3940, 4566, 4759, 5940, 6133, 6410, 6867, 6928, 6988, 7016, 7301, 7361, 7675, 7759, 7928, 8265, 8385, 8651, 8687, 9265, 9313, 9398, 9855];
const s6679 = [24, 96, 386, 578, 651, 723, 807, 1289, 1554, 1807, 2566, 3048, 3470, 3542, 3618, 3871, 3916, 4012, 4193, 4795, 5048, 5446, 5494, 5639, 5663, 5831, 6108, 6181, 6241, 6422, 6482, 6783, 6855, 6928, 7072, 7398, 7482, 7530, 7627, 7675, 8048, 8265, 8313, 8349, 8385, 8940, 9398, 9554, 9578];
const s6678 = [470, 880, 1482, 1530, 1855, 1908, 2301, 5530, 5916, 5968, 6169, 6349, 6639, 7241, 7313, 7723, 8048, 8145, 8301, 9205, 9687];
const s6677 = [398, 855, 1120, 1241, 1711, 1843, 2084, 3108, 3827, 3855, 4124, 4566, 5313, 5711, 5731, 5880, 5928, 7518, 8663, 9012];
const s6676 = [1120, 1177, 1687, 1843, 2000, 3892, 3976, 4940, 5157, 5301, 5976, 6554, 6663, 7289, 8193, 8361, 8614];
const s6675 = [723, 1265, 1373, 2494, 2627, 3494, 6398, 7193, 7410, 7458, 8301, 8988];
const s6674 = [735, 3313, 6892, 7325, 8675, 9277];
const s6673 = [1831, 5711, 5988, 9157];
const s6672 = [410, 8976, 9470];
const s6671 = [880, 912, 1349, 6904];
const s6670 = [60];
const s6669 = [5976];
const s6665 = [6627];

const adcLevels = [6724, 6723, 6722, 6721, 6720, 6719, 6718, 6717, 6716, 6715, 6714, 6713, 6712, 6711, 6710, 6709, 6708, 6707, 6706, 6705, 6704, 6703, 6702, 6701, 6700, 6699, 6698, 6697, 6696, 6695, 6694, 6693, 6692, 6691, 6690, 6689, 6688, 6687, 6686, 6685, 6684, 6683, 6682, 6681, 6680, 6679, 6678, 6677, 6676, 6675, 6674, 6673, 6672, 6671, 6670, 6669, 6665];
const levelSamples = [s6724, s6723, s6722, s6721, s6720, s6719, s6718, s6717, s6716, s6715, s6714, s6713, s6712, s6711, s6710, s6709, s6708, s6707, s6706, s6705, s6704, s6703, s6702, s6701, s6700, s6699, s6698, s6697, s6696, s6695, s6694, s6693, s6692, s6691, s6690, s6689, s6688, s6687, s6686, s6685, s6684, s6683, s6682, s6681, s6680, s6679, s6678, s6677, s6676, s6675, s6674, s6673, s6672, s6671, s6670, s6669, s6665];

const xTicks = [0, 2000, 4000, 6000, 8000, 10000];
const yTicks = [6670, 6680, 6690, 6700, 6710, 6720];

const points = [];
adcLevels.forEach((adc, i) => {
  levelSamples[i].forEach(sample => points.push({ x: sample, y: adc }));
});

const fontName = "'DejaVu Sans'";

// axes frame and the legend box, matplotlib style
const framePlugin = {
  id: "frame",
  afterDatasetsDraw(chart) {
    const ctx = chart.ctx;
    ctx.save();
    ctx.beginPath();
    ctx.roundRect(772.5, 42.5, 205.5, 45, 3);
    ctx.fillStyle = "rgba(255,255,255,0.8)";
    ctx.fill();
    ctx.strokeStyle = "rgba(204,204,204,0.8)";
    ctx.lineWidth = 1;
    ctx.stroke();

    ctx.fillStyle = "#000";
    ctx.beginPath();
    ctx.arc(791, 65.3, 2.7, 0, Math.PI * 2);
    ctx.fill();

    ctx.textBaseline = "alphabetic";
    ctx.textAlign = "left";
    ctx.font = "13.9px " + fontName;
    ctx.fillText("Samples", 816.5, 59);

    const parts = [
      ["\u03bc", true], [" = 6695.83, ", false], ["\u03c3", true], [" = 7.52", false]
    ];
    let tx = 816.5;
    parts.forEach(part => {
      ctx.font = (part[1] ? "italic " : "") + "13.9px " + fontName;
      ctx.fillText(part[0], tx, 76);
      tx += ctx.measureText(part[0]).width;
    });
    ctx.restore();
  },
  afterDraw(chart) {
    const a = chart.chartArea;
    const ctx = chart.ctx;
    ctx.save();
    ctx.strokeStyle = "#000";
    ctx.lineWidth = 1.1;
    ctx.strokeRect(a.left, a.top, a.right - a.left, a.bottom - a.top);
    ctx.restore();
  }
};

const ctx = document.getElementById("pedestalChart").getContext("2d");

new Chart(ctx, {
  type: "scatter",
  data: {
    datasets: [{
      label: "Samples",
      data: points,
      backgroundColor: "#000",
      borderWidth: 0,
      pointRadius: 2.7,
      pointHoverRadius: 2.7
    }]
  },
  options: {
    responsive: false,
    animation: false,
    layout: { padding: { right: 15 } },
    plugins: {
      legend: { display: false },
      tooltip: { enabled: false },
      title: {
        display: true,
        fullSize: false,
        text: "Run 668, channel041, Pedestal",
        color: "#000",
        font: { family: fontName, size: 16.8, weight: "normal", lineHeight: 1.2 },
        padding: { top: 12, bottom: 3 }
      }
    },
    scales: {
      x: {
        type: "linear",
        min: -485,
        max: 10394,
        afterFit: scale => { scale.height = 58; },
        afterBuildTicks: scale => { scale.ticks = xTicks.map(v => ({ value: v })); },
        border: { display: false },
        grid: { color: "#b0b0b0", lineWidth: 1.1, tickColor: "#000", tickLength: 5 },
        ticks: {
          color: "#000",
          padding: 5,
          maxRotation: 0,
          autoSkip: false,
          font: { family: fontName, size: 13.9 },
          callback: v => String(v)
        },
        title: {
          display: true,
          text: "Sample #",
          color: "#000",
          font: { family: fontName, size: 13.9 },
          padding: { top: 4, bottom: 13 }
        }
      },
      y: {
        type: "linear",
        min: 6662.1,
        max: 6727,
        afterFit: scale => { scale.width = 81; },
        afterBuildTicks: scale => { scale.ticks = yTicks.map(v => ({ value: v })); },
        border: { display: false },
        grid: { color: "#b0b0b0", lineWidth: 1.1, tickColor: "#000", tickLength: 5 },
        ticks: {
          color: "#000",
          padding: 4,
          autoSkip: false,
          font: { family: fontName, size: 13.9 },
          callback: v => String(v)
        },
        title: {
          display: true,
          text: "ADC Counts",
          color: "#000",
          font: { family: fontName, size: 13.9 },
          padding: { top: 12, bottom: 4 }
        }
      }
    }
  },
  plugins: [framePlugin]
});
</script>
</body>
</html>
